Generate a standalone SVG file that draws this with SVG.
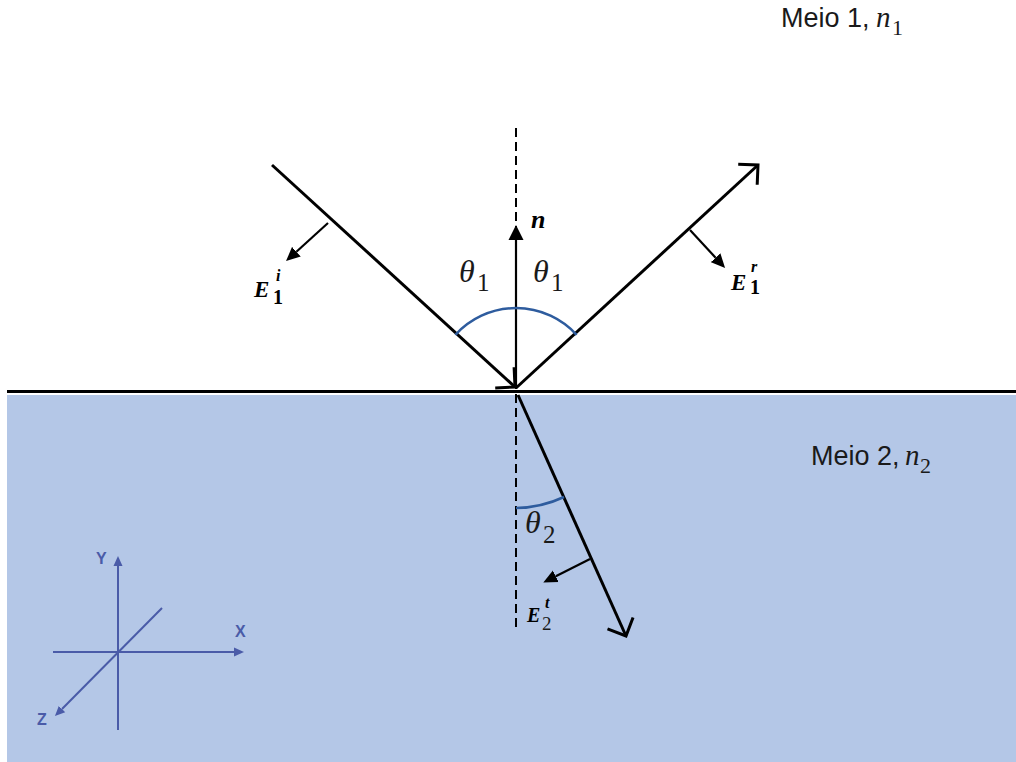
<svg xmlns="http://www.w3.org/2000/svg" width="1016" height="762" viewBox="0 0 1016 762">
<style>
.ray{stroke:#000;stroke-width:3;fill:none}
.vec{stroke:#000;stroke-width:2.2;fill:none}
.arc{stroke:#2e5c9e;stroke-width:2.5;fill:none}
.ax{stroke:#4a5ba8;stroke-width:2;fill:none}
.axl{font-family:"Liberation Sans",Arial,sans-serif;font-size:16px;font-weight:bold;fill:#4a5ba8}
.med{font-family:"Liberation Sans",Arial,sans-serif;font-size:27px;fill:#1a1a1a}
.mi{font-family:"Liberation Serif","Times New Roman",serif;font-style:italic;fill:#1a1a1a}
.mr{font-family:"Liberation Serif","Times New Roman",serif;fill:#1a1a1a}
.eb{font-family:"Liberation Serif","Times New Roman",serif;font-style:italic;font-weight:bold;fill:#000}
.nb{font-family:"Liberation Serif","Times New Roman",serif;font-weight:bold;fill:#000}
</style>
<defs>
<marker id="open" markerUnits="userSpaceOnUse" markerWidth="20" markerHeight="34" viewBox="-17 -17 20 34" refX="0" refY="0" orient="auto">
<path d="M-14,-14 L0,0 L-14,14" fill="none" stroke="#000" stroke-width="3"/>
</marker>
<marker id="fill" markerUnits="userSpaceOnUse" markerWidth="16" markerHeight="16" viewBox="0 -8 16 16" refX="0" refY="0" orient="auto">
<path d="M0,-7.5 L15,0 L0,7.5 Z" fill="#000"/>
</marker>
<marker id="fsm" markerUnits="userSpaceOnUse" markerWidth="15" markerHeight="14" viewBox="0 -7 15 14" refX="0" refY="0" orient="auto">
<path d="M0,-6.5 L14,0 L0,6.5 Z" fill="#000"/>
</marker>
<marker id="axh" markerUnits="userSpaceOnUse" markerWidth="11" markerHeight="10" viewBox="0 -5 11 10" refX="0" refY="0" orient="auto">
<path d="M0,-4.5 L10,0 L0,4.5 Z" fill="#4a5ba8"/>
</marker>
</defs>

<g id="medium2">
<rect x="7" y="395" width="1009" height="367" fill="#b4c7e7"/>
</g>

<g id="interface">
<line x1="7" y1="391.5" x2="1016" y2="391.5" stroke="#000" stroke-width="3"/>
</g>

<g id="connectors">
<line id="normal-dashed" x1="516" y1="128" x2="516" y2="632" stroke="#000" stroke-width="2" stroke-dasharray="9,5"/>
<line id="incident" class="ray" x1="272" y1="165" x2="515" y2="387" marker-end="url(#open)"/>
<line id="reflected" class="ray" x1="516" y1="388" x2="758" y2="165" marker-end="url(#open)"/>
<line id="transmitted" class="ray" x1="518" y1="395" x2="626" y2="636" marker-end="url(#open)"/>
<line id="n-vector" class="vec" x1="516" y1="388" x2="516" y2="240" marker-end="url(#fill)"/>
<line id="E1i" class="vec" x1="328" y1="223" x2="296.4" y2="251.7" marker-end="url(#fsm)"/>
<line id="E1r" class="vec" x1="690" y1="230" x2="715.6" y2="257.7" marker-end="url(#fsm)"/>
<line id="E2t" class="vec" x1="590" y1="559" x2="555.8" y2="576.3" marker-end="url(#fsm)"/>
<path id="arc1" class="arc" d="M455.4,334.8 A82,82 0 0 1 576.6,334.8"/>
<path id="arc2" class="arc" d="M516,508 A117,117 0 0 0 564,497"/>
</g>

<g id="labels">
<text class="med" x="781" y="27">Meio 1,</text>
<text class="mi" x="876" y="27" font-size="29">n</text>
<text class="mr" x="892" y="35" font-size="22">1</text>

<text class="med" x="811" y="465">Meio 2,</text>
<text class="mi" x="905" y="465" font-size="29">n</text>
<text class="mr" x="920" y="473" font-size="22">2</text>

<text class="mi" x="459" y="282" font-size="32">θ</text>
<text class="mr" x="477" y="291" font-size="25">1</text>
<text class="mi" x="533" y="282" font-size="32">θ</text>
<text class="mr" x="551" y="291" font-size="25">1</text>
<text class="mi" x="525" y="533" font-size="32">θ</text>
<text class="mr" x="543" y="543" font-size="25">2</text>

<text class="eb" x="531" y="228" font-size="26">n</text>

<text class="eb" x="254" y="297" font-size="23">E</text>
<text class="nb" x="273" y="304" font-size="20">1</text>
<text class="eb" x="276" y="281" font-size="16">i</text>

<text class="eb" x="731" y="290" font-size="23">E</text>
<text class="nb" x="750" y="294" font-size="20">1</text>
<text class="eb" x="751" y="272" font-size="16">r</text>

<text class="eb" x="527" y="622" font-size="20">E</text>
<text class="mr" x="542" y="630" font-size="19">2</text>
<text class="eb" x="545" y="608" font-size="16">t</text>
</g>

<g id="axes">
<line class="ax" x1="118" y1="730" x2="118" y2="566" marker-end="url(#axh)"/>
<line class="ax" x1="53" y1="652" x2="234" y2="652" marker-end="url(#axh)"/>
<line class="ax" x1="162" y1="608" x2="62" y2="709" marker-end="url(#axh)"/>
<text class="axl" x="96" y="564">Y</text>
<text class="axl" x="235" y="637">X</text>
<text class="axl" x="37" y="725">Z</text>
</g>
</svg>
